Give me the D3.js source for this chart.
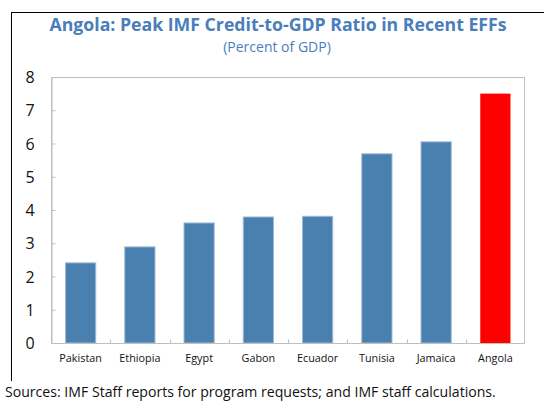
<!DOCTYPE html>
<html><head><meta charset="utf-8">
<script src="https://cdn.jsdelivr.net/npm/d3@7"></script>
<style>body{margin:0;background:#fff}svg{display:block}text{font-family:"Open Sans","Noto Sans",sans-serif}</style>
</head><body><svg id="c" width="544" height="402"></svg>
<script>
const categories = ["Pakistan","Ethiopia","Egypt","Gabon","Ecuador","Tunisia","Jamaica","Angola"];
const values = [2.41, 2.89, 3.61, 3.79, 3.81, 5.69, 6.05, 7.5];
const yTicks = [0,1,2,3,4,5,6,7,8];
const title = "Angola: Peak IMF Credit-to-GDP Ratio in Recent EFFs";
const subtitle = "(Percent of GDP)";
const source = "Sources: IMF Staff reports for program requests; and IMF staff calculations.";

const svg = d3.select("#c");
const L = 51, R = 525, T = 77, B = 343;
const x = d3.scaleBand().domain(categories).range([L, R]).paddingInner(0.49).paddingOuter(0.245);
const y = d3.scaleLinear().domain([0, 8]).range([B, T]);
const axisCol = "#bfbfbf";

// frame
svg.append("line").attr("x1",11.5).attr("x2",544).attr("y1",12.5).attr("y2",12.5).attr("stroke","#000").attr("stroke-width",1);
svg.append("line").attr("x1",11.5).attr("x2",11.5).attr("y1",12).attr("y2",381).attr("stroke","#000").attr("stroke-width",1);

svg.append("text").attr("x",278).attr("y",31).attr("text-anchor","middle").attr("fill","#4a7ebb")
  .attr("font-size",17.7).attr("font-weight","bold").text(title);
svg.append("text").attr("x",277).attr("y",52).attr("text-anchor","middle").attr("fill","#4a7ebb")
  .attr("font-size",14).text(subtitle);

// plot box
svg.append("rect").attr("x",L+0.5).attr("y",T+0.5).attr("width",R-L-1).attr("height",B-T).attr("fill","none").attr("stroke",axisCol);

// bars
svg.selectAll("rect.bar").data(values).join("rect").attr("class","bar")
  .attr("x",(d,i)=>x(categories[i])).attr("width",x.bandwidth())
  .attr("y",d=>y(d)).attr("height",d=>y(0)-y(d))
  .attr("fill",(d,i)=>categories[i]==="Angola"?"#ff0000":"#4a80b0")
  .attr("stroke",(d,i)=>categories[i]==="Angola"?"none":"#9dbad6").attr("stroke-width",1);

// y axis
const ya = svg.append("g").attr("transform",`translate(${L+0.5},0)`)
  .call(d3.axisRight(y).tickValues(yTicks).tickSize(4).tickFormat(""));
ya.select(".domain").attr("stroke",axisCol);
ya.selectAll(".tick line").attr("stroke",axisCol);
svg.selectAll("text.yl").data(yTicks).join("text").attr("class","yl")
  .attr("x",30).attr("y",d=>y(d)+6).attr("text-anchor","middle").attr("font-size",16).attr("fill","#111").text(d=>d);

// x axis
const step = x.step();
const boundaries = categories.slice(1).map(c => x(c) - x.paddingInner()*step/2);
const xa = svg.append("g").attr("transform",`translate(0,${B+0.5})`);
xa.append("line").attr("x1",L).attr("x2",R).attr("stroke",axisCol);
xa.selectAll("line.t").data(boundaries).join("line").attr("class","t")
  .attr("x1",d=>Math.round(d)+0.5).attr("x2",d=>Math.round(d)+0.5).attr("y1",0).attr("y2",-4).attr("stroke",axisCol);
svg.selectAll("text.xl").data(categories).join("text").attr("class","xl")
  .attr("x",d=>x(d)+x.bandwidth()/2).attr("y",362).attr("text-anchor","middle")
  .attr("font-size",10.8).attr("fill","#111").text(d=>d);

svg.append("text").attr("x",5).attr("y",397).attr("font-size",14.1).attr("fill","#111").text(source);
</script></body></html>
